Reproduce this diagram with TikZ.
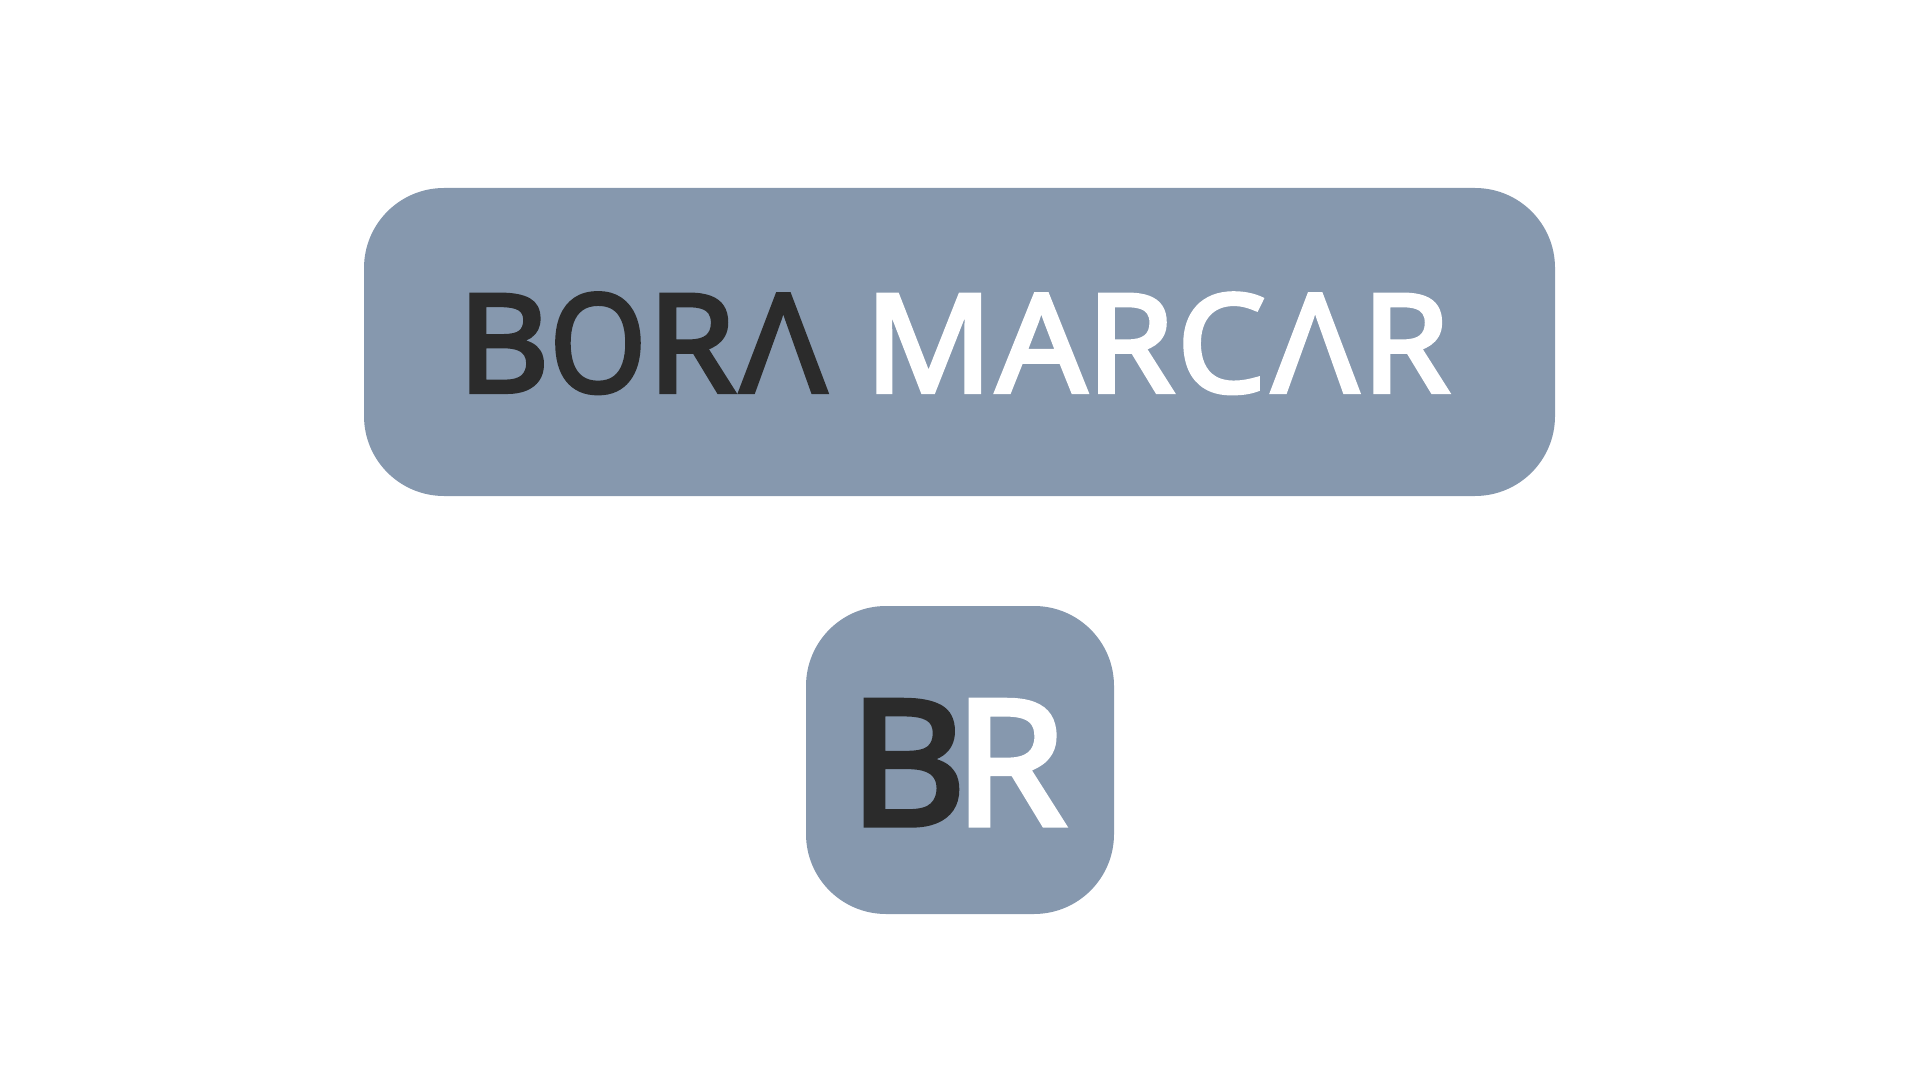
\documentclass[tikz,border=0pt]{standalone}
\usepackage{fontspec}
\usepackage{xcolor}
\usetikzlibrary{positioning}
\newfontfamily\logofont[FakeBold=3]{Noto Sans}
\definecolor{slate}{HTML}{8698AE}
\definecolor{ink}{HTML}{2B2B2B}
\tikzset{
  logotext/.style={anchor=base west,inner sep=0,xscale=1.035,font=\logofont\fontsize{38.8}{44}\selectfont}
}

\begin{document}
\begin{tikzpicture}
      \def\wid{19.2}
      \def\hei{10.8}

      \useasboundingbox (0,0) rectangle (\wid,-\hei);

      \fill[slate,rounded corners=0.8cm] (3.64,-1.88) rectangle (15.55,-4.96);
      \fill[slate,rounded corners=0.8cm] (8.06,-6.06) rectangle (11.14,-9.14);

      \node[logotext,text=ink] (bora) at (4.57,-3.92) {B\scalebox{0.88}[1]{O}\kern0.4pt R\kern1.3pt Λ};
      \node[logotext,text=white] (marcar) at (8.64,-3.92) {M\kern1pt AR\kern0.7pt C\kern1.7pt Λ\kern1pt R};

      \node[logotext,scale=1.28] (br) at (8.48,-8.25) {\textcolor{ink}{B}\kern-2.7pt\textcolor{white}{R}};
    \end{tikzpicture}
\end{document}
